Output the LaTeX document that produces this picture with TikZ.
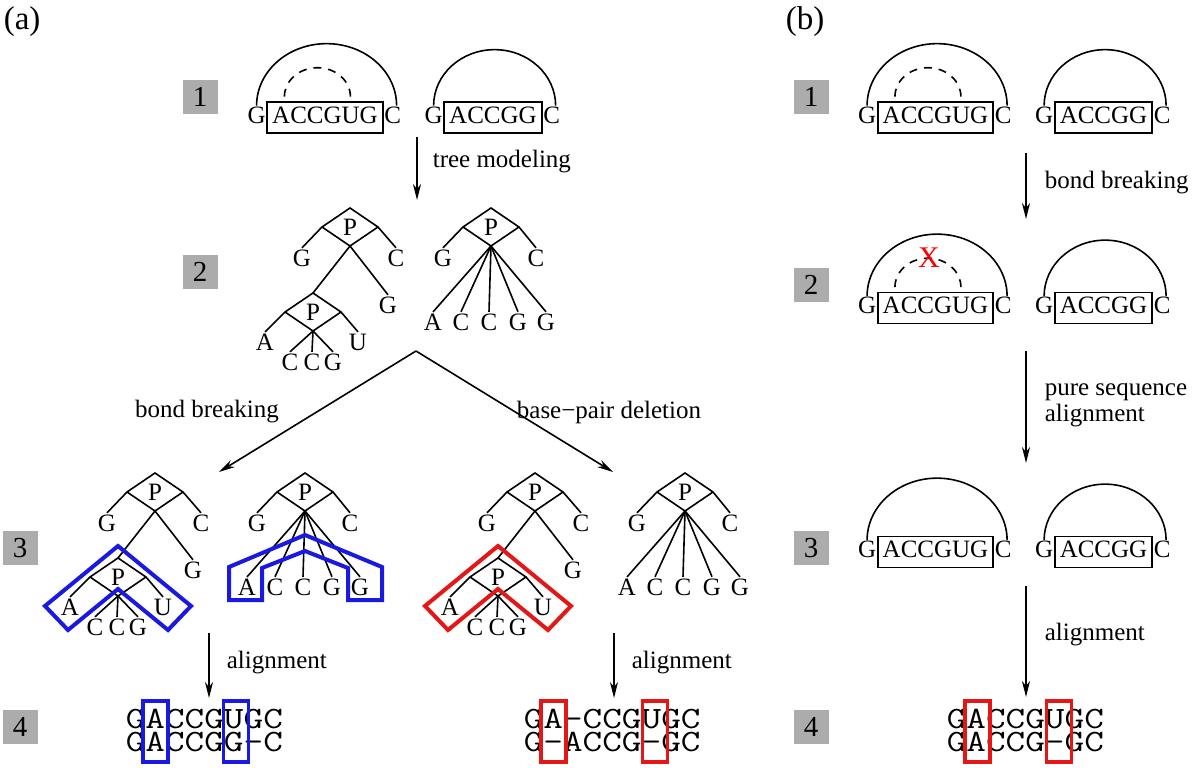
\documentclass[tikz,border=0pt]{standalone}
\usepackage{graphicx}
\usepackage{fontspec}
\setmainfont{Liberation Serif}
\usetikzlibrary{arrows.meta}

\definecolor{numgray}{RGB}{172,172,172}
\definecolor{hlblue}{RGB}{25,25,225}
\definecolor{hlred}{RGB}{228,22,22}

\tikzset{
  nt/.style={inner sep=1pt, font=\fontsize{25}{30}\selectfont},
  seq/.style={draw, line width=1.6pt, inner xsep=5pt, inner ysep=2pt,
    text height=19pt, text depth=8pt, font=\fontsize{25}{30}\selectfont},
  lbl/.style={inner sep=0pt, font=\fontsize{25}{26}\selectfont},
  num/.style={fill=numgray, minimum width=35pt, minimum height=34pt,
    inner sep=0pt, font=\fontsize{29}{30}\selectfont},
  aln/.style={inner sep=0pt, text height=18pt, text depth=1pt,
    font=\ttfamily\fontsize{31}{31}\selectfont},
  arr/.style={line width=1.6pt, -{Stealth[length=16pt, width=8pt, inset=5pt]}},
  hlline/.style={line width=4pt, line join=miter},
  hlbox/.style={draw, line width=3.5pt, minimum width=25pt,
    minimum height=61pt, inner sep=0pt},
}

\begin{document}
\begin{tikzpicture}[x=1pt, y=-1pt, line width=1.6pt]
  \useasboundingbox (0,0) rectangle (1200,768);

  % panel labels and step numbers
  \node[lbl, font=\fontsize{33}{33}\selectfont, anchor=west] (pa) at (3,22) {(a)};
  \node[lbl, font=\fontsize{33}{33}\selectfont, anchor=west] (pb) at (785,22) {(b)};
  \node[num] (n1a) at (200,97) {1};
  \node[num] (n2a) at (200,272) {2};
  \node[num] (n3a) at (20,548) {3};
  \node[num] (n4a) at (20,727) {4};
  \node[num] (n1b) at (811,97) {1};
  \node[num] (n2b) at (811,285) {2};
  \node[num] (n3b) at (811,548) {3};
  \node[num] (n4b) at (811,727) {4};

  % secondary structures
  \foreach \sx/\sy/\n in {325/117.5/ra, 935.5/117.5/rb, 935.5/308/rc, 935.5/552/rd}{
    \begin{scope}[shift={(\sx,\sy)}]
      \node[seq] (\n-s1) at (0,0) {ACCGUG};
      \node[nt, inner sep=0pt, anchor=base east] (\n-g1) at (\n-s1.base west) {G};
      \node[nt, inner sep=0pt, anchor=base west] (\n-c1) at (\n-s1.base east) {C};
      \draw (\n-g1.north) arc[start angle=180, end angle=0, x radius=70pt, y radius=62pt];
      \node[seq] (\n-s2) at (168,0) {ACCGG};
      \node[nt, inner sep=0pt, anchor=base east] (\n-g2) at (\n-s2.base west) {G};
      \node[nt, inner sep=0pt, anchor=base west] (\n-c2) at (\n-s2.base east) {C};
      \draw (\n-g2.north) arc[start angle=180, end angle=0, x radius=61pt, y radius=56pt];
    \end{scope}
  }
  \foreach \n in {ra, rb, rc}
    \draw[dash pattern=on 8pt off 6.9pt] ([xshift=18pt, yshift=4.5pt]\n-s1.north west)
      arc[start angle=180, end angle=0, x radius=33pt, y radius=29pt];
  \node[nt, text=red, font=\fontsize{30}{30}\selectfont] (xb) at (929,258) {X};

  % trees with a nested P node
  \foreach \tx/\ty/\n in {350/208/ta, 155/473/tb, 535/473/tc}{
    \begin{scope}[shift={(\tx,\ty)}]
      \coordinate (\n-t) at (0,0);
      \coordinate (\n-l) at (-28,19);
      \coordinate (\n-r) at (28,19);
      \coordinate (\n-b) at (0,38);
      \node[nt] (\n-p) at (0,19) {P};
      \node[nt] (\n-g) at (-48,50) {G};
      \node[nt] (\n-c) at (46,50) {C};
      \node[nt] (\n-g2) at (38,97) {G};
      \draw (\n-g.north) -- (\n-l) -- (\n-t) -- (\n-r) -- (\n-c.north);
      \draw (\n-l) -- (\n-b) -- (\n-r);
      \coordinate (\n-s) at (-37,85);
      \coordinate (\n-sl) at (-65,104);
      \coordinate (\n-sr) at (-9,104);
      \coordinate (\n-sb) at (-37,123);
      \node[nt] (\n-sp) at (-37,104) {P};
      \node[nt] (\n-a) at (-85,134) {A};
      \node[nt] (\n-u) at (8,134) {U};
      \node[nt] (\n-x1) at (-60,154) {C};
      \node[nt] (\n-x2) at (-38,154) {C};
      \node[nt] (\n-x3) at (-17,154) {G};
      \draw (\n-g2.north) -- (\n-b) -- (\n-s);
      \draw (\n-a.north) -- (\n-sl) -- (\n-s) -- (\n-sr) -- (\n-u.north);
      \draw (\n-sl) -- (\n-sb) -- (\n-sr);
      \foreach \k in {1,2,3} \draw (\n-sb) -- (\n-x\k.north);
    \end{scope}
  }

  % flat trees
  \foreach \tx/\ty/\n in {491/208/tp, 305/473/tq, 685/473/tr}{
    \begin{scope}[shift={(\tx,\ty)}]
      \coordinate (\n-t) at (0,0);
      \coordinate (\n-l) at (-28,19);
      \coordinate (\n-r) at (28,19);
      \coordinate (\n-b) at (0,38);
      \node[nt] (\n-p) at (0,19) {P};
      \node[nt] (\n-g) at (-48,50) {G};
      \node[nt] (\n-c) at (45,50) {C};
      \draw (\n-g.north) -- (\n-l) -- (\n-t) -- (\n-r) -- (\n-c.north);
      \draw (\n-l) -- (\n-b) -- (\n-r);
      \foreach \xx/\k/\lt in {-58/1/A, -30/2/C, -2/3/C, 27/4/G, 55/5/G}{
        \node[nt] (\n-x\k) at (\xx,114) {\lt};
        \draw (\n-b) -- (\n-x\k.north);
      }
    \end{scope}
  }

  % highlighted subtrees
  \draw[hlline, hlblue, shift={(118,558)}] (0,-12) -- (-73,48) -- (-50,72)
    -- (0,31) -- (50,72) -- (73,48) -- cycle;
  \draw[hlline, hlred, shift={(498,558)}] (0,-12) -- (-73,48) -- (-50,72)
    -- (0,31) -- (50,72) -- (73,48) -- cycle;
  \draw[hlline, hlblue, shift={(305,473)}] (0,62) -- (-76,94) -- (-76,127)
    -- (-43,127) -- (-43,95) -- (0,78) -- (43,95) -- (43,127) -- (77,127)
    -- (77,94) -- cycle;

  % arrows and their labels, panel (a)
  \coordinate (tm1) at (417,137);
  \coordinate (tm2) at (417,200);
  \draw[arr] (tm1) -- (tm2);
  \node[lbl, anchor=west] (ltm) at (432,162) {tree modeling};
  \coordinate (fk) at (416,351);
  \coordinate (fkl) at (219,472);
  \coordinate (fkr) at (613,472);
  \draw[arr] (fk) -- (fkl);
  \draw[arr] (fk) -- (fkr);
  \node[lbl] (lbb) at (207,412) {bond breaking};
  \node[lbl] (lbp) at (609,412) {base−pair deletion};
  \coordinate (al1) at (209,633);
  \coordinate (al2) at (209,698);
  \draw[arr] (al1) -- (al2);
  \node[lbl, anchor=west] (lal) at (226,663) {alignment};
  \coordinate (ar1) at (614,633);
  \coordinate (ar2) at (614,698);
  \draw[arr] (ar1) -- (ar2);
  \node[lbl, anchor=west] (lar) at (631,663) {alignment};

  % arrows and their labels, panel (b)
  \coordinate (b1) at (1026,153);
  \coordinate (b2) at (1026,219);
  \draw[arr] (b1) -- (b2);
  \node[lbl, anchor=west] (lb1) at (1044,183) {bond breaking};
  \coordinate (b3) at (1026,351);
  \coordinate (b4) at (1026,463);
  \draw[arr] (b3) -- (b4);
  \node[lbl, anchor=west, align=left] (lb2) at (1044,405) {pure sequence\\alignment};
  \coordinate (b5) at (1026,586);
  \coordinate (b6) at (1026,697);
  \draw[arr] (b5) -- (b6);
  \node[lbl, anchor=west] (lb3) at (1044,635) {alignment};

  % alignments
  \node[aln, anchor=base west] (qa1) at (125,728) {\scalebox{1.23}[1]{GACCGUGC}};
  \node[aln, anchor=base west] (qa2) at (125,751) {\scalebox{1.23}[1]{GACCGG–C}};
  \node[hlbox, draw=hlblue] (ha1) at (155.5,731.5) {};
  \node[hlbox, draw=hlblue] (ha2) at (236,731.5) {};
  \node[aln, anchor=base west] (qb1) at (523,728) {\scalebox{1.23}[1]{GA–CCGUGC}};
  \node[aln, anchor=base west] (qb2) at (523,751) {\scalebox{1.23}[1]{G–ACCG–GC}};
  \node[hlbox, draw=hlred] (hb1) at (553.5,731.5) {};
  \node[hlbox, draw=hlred] (hb2) at (655,731.5) {};
  \node[aln, anchor=base west] (qc1) at (946,728) {\scalebox{1.23}[1]{GACCGUGC}};
  \node[aln, anchor=base west] (qc2) at (946,751) {\scalebox{1.23}[1]{GACCG–GC}};
  \node[hlbox, draw=hlred] (hc1) at (977.5,731.5) {};
  \node[hlbox, draw=hlred] (hc2) at (1059,731.5) {};
\end{tikzpicture}
\end{document}
